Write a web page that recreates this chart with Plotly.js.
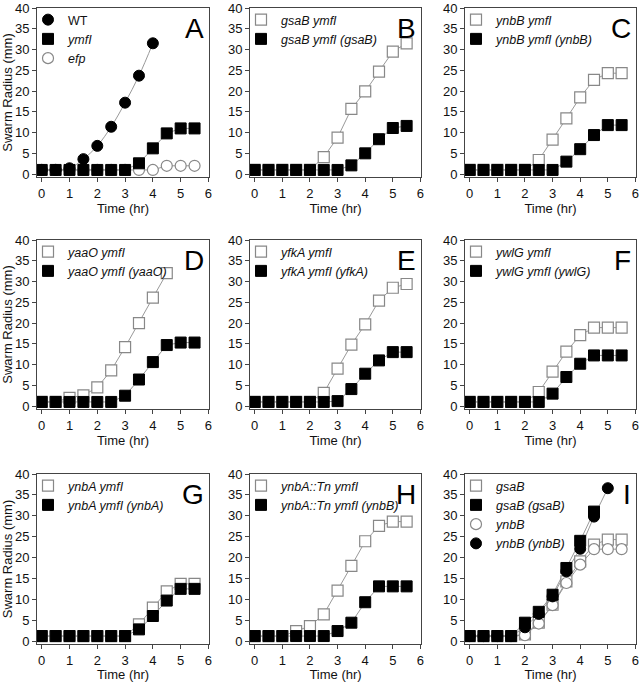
<!DOCTYPE html>
<html>
<head>
<meta charset="utf-8">
<script src="https://cdn.plot.ly/plotly-3.0.1.min.js"></script>
<style>html,body{margin:0;padding:0;background:#fff;}#chart{width:642px;height:682px;}</style>
</head>
<body>
<div id="chart"></div>
<script>
// ---- data ----
const time = [0,0.5,1,1.5,2,2.5,3,3.5,4,4.5,5,5.5];
const panelLetters = ['A','B','C','D','E','F','G','H','I'];
const xTicks = [0,1,2,3,4,5,6];
const yTicks = [0,5,10,15,20,25,30,35,40];
// Panel A
const aWT   = [1,1,1.4,3.6,6.8,11.4,17.2,23.7,31.5];
const aYmfI = [1,1,1,1,1,1,1,2.6,6.2,9.8,11,11];
const aEfp  = [1,1,1,1,1,1,1,1,1,2,2,2];
// Panel B
const bOpen = [1,1,1,1,1,4.1,8.8,15.7,19.9,24.7,29.5,31.5];
const bFill = [1,1,1,1,1,1,1,2.1,5,8.4,11.1,11.6];
// Panel C
const cOpen = [1,1,1,1,1,3.4,8.3,13.4,18.5,22.7,24.3,24.3];
const cFill = [1,1,1,1,1,1,1,3,6,9.4,11.8,11.8];
// Panel D
const dOpen = [1,1,2,2.6,4.5,8.6,14.2,20,26.1,32];
const dFill = [1,1,1,1,1,1,2.5,6.4,10.6,14.7,15.3,15.3];
// Panel E
const eOpen = [1,1,1,1,1,3.2,9,14.8,19.7,25.4,28.5,29.4];
const eFill = [1,1,1,1,1,1,1.2,4.1,7.8,11,13,13];
// Panel F
const fOpen = [1,1,1,1,1,3.4,8.3,13.1,17.1,18.9,18.9,18.9];
const fFill = [1,1,1,1,1,1,3,7,10.2,12.2,12.2,12.2];
// Panel G
const gOpen = [1.2,1.2,1.2,1.2,1.2,1.2,1.2,4,8,11.9,13.7,13.7];
const gFill = [1.2,1.2,1.2,1.2,1.2,1.2,1.2,2.8,6,9.7,12.5,12.5];
// Panel H
const hOpen = [1.2,1.2,1.2,2.4,3.6,6.4,12.1,18,23.9,27.6,28.6,28.6];
const hFill = [1.2,1.2,1.2,1.2,1.2,1.2,2.4,4.4,9.3,13.1,13.1,13.1];
// Panel I
const iGsaB  = [1.2,1.2,1.2,1.2,1.6,4.4,8.7,14.3,19.1,23.1,24.3,24.3];
const iGsaBc = [1.2,1.2,1.2,1.2,4.4,7,11.1,17.5,24,31];
const iYnbB  = [1.2,1.2,1.2,1.2,1.4,4.2,8.6,13.9,18.3,22,22,22];
const iYnbBc = [1.2,1.2,1.2,1.2,3.3,6.5,10.7,16.7,22.1,29.8,36.6];

// series per panel: [name, values, style, spline]
const panels = [
  [['WT', aWT, 'fc', true], ['<i>ymfI</i>', aYmfI, 'fs'], ['<i>efp</i>', aEfp, 'oc']],
  [['<i>gsaB ymfI</i>', bOpen, 'os'], ['<i>gsaB ymfI (gsaB)</i>', bFill, 'fs']],
  [['<i>ynbB ymfI</i>', cOpen, 'os'], ['<i>ynbB ymfI (ynbB)</i>', cFill, 'fs']],
  [['<i>yaaO ymfI</i>', dOpen, 'os'], ['<i>yaaO ymfI (yaaO)</i>', dFill, 'fs']],
  [['<i>yfkA ymfI</i>', eOpen, 'os'], ['<i>yfkA ymfI (yfkA)</i>', eFill, 'fs']],
  [['<i>ywlG ymfI</i>', fOpen, 'os'], ['<i>ywlG ymfI (ywlG)</i>', fFill, 'fs']],
  [['<i>ynbA ymfI</i>', gOpen, 'os'], ['<i>ynbA ymfI (ynbA)</i>', gFill, 'fs']],
  [['<i>ynbA::Tn ymfI</i>', hOpen, 'os'], ['<i>ynbA::Tn ymfI (ynbB)</i>', hFill, 'fs']],
  [['<i>gsaB</i>', iGsaB, 'os'], ['<i>gsaB (gsaB)</i>', iGsaBc, 'fs'], ['<i>ynbB</i>', iYnbB, 'oc'], ['<i>ynbB (ynbB)</i>', iYnbBc, 'fc']]
];
// draw order inside panel (indices into series list)
const drawOrder = [[2,0,1],[0,1],[0,1],[0,1],[0,1],[0,1],[0,1],[0,1],[0,2,3,1]];

// ---- layout geometry ----
const W = 642, H = 682;
const colPx = [[37,209],[250,421],[465,636]];
const rowPx = [[8,177],[240,409],[474,644]];
const FONT = 'Liberation Sans, Arial, sans-serif';

const lineTraces = [], markerTraces = [];
const layout = {
  width: W, height: H, margin: {l:0, r:0, t:0, b:0},
  paper_bgcolor: '#fff', plot_bgcolor: '#fff',
  font: {family: FONT, size: 13, color: '#111'},
  showlegend: true, annotations: []
};

panels.forEach((series, p) => {
  const r = Math.floor(p/3), c = p % 3;
  const n = p + 1;
  const xa = n === 1 ? 'x' : 'x' + n;
  const ya = n === 1 ? 'y' : 'y' + n;
  const lg = n === 1 ? 'legend' : 'legend' + n;
  layout[n === 1 ? 'xaxis' : 'xaxis' + n] = {
    domain: [colPx[c][0]/W, colPx[c][1]/W], anchor: ya,
    range: [-0.17, 6.02], tickvals: xTicks, ticks: 'outside', ticklen: 4, tickwidth: 1,
    tickcolor: '#444', showline: true, linecolor: '#444', linewidth: 1, mirror: true,
    showgrid: false, zeroline: false, tickfont: {size: 13, color: '#111'},
    ticklabeloverflow: 'allow',
    title: {text: 'Time (hr)', font: {size: 13, color: '#111'}, standoff: 3}
  };
  layout[n === 1 ? 'yaxis' : 'yaxis' + n] = {
    domain: [(H - rowPx[r][1])/H, (H - rowPx[r][0])/H], anchor: xa,
    range: [-0.7, 40], tickvals: yTicks, ticks: 'outside', ticklen: 4, tickwidth: 1,
    tickcolor: '#444', showline: true, linecolor: '#444', linewidth: 1, mirror: true,
    showgrid: false, zeroline: false, tickfont: {size: 13, color: '#111'},
    ticklabeloverflow: 'allow',
    title: c === 0 ? {text: 'Swarm Radius (mm)', font: {size: 13, color: '#111'}, standoff: 4} : {text: ''}
  };
  layout[lg] = {
    x: (colPx[c][0] - 9)/W, y: (H - rowPx[r][0] + 3)/H, xanchor: 'left', yanchor: 'top',
    bgcolor: 'rgba(0,0,0,0)', borderwidth: 0, font: {size: 12.5, color: '#111', family: FONT},
    tracegroupgap: 0, itemsizing: 'trace'
  };
  layout.annotations.push({
    text: panelLetters[p], xref: xa + ' domain', yref: ya + ' domain',
    x: 0.98, y: 0.985, xanchor: 'right', yanchor: 'top', showarrow: false,
    font: {size: 28, color: '#000', family: FONT}
  });
  drawOrder[p].forEach(i => {
    const [name, vals, style, spline] = series[i];
    const xs = time.slice(0, vals.length);
    lineTraces.push({
      type: 'scatter', mode: 'lines', x: xs, y: vals, xaxis: xa, yaxis: ya,
      line: {color: '#999', width: 1, shape: spline ? 'spline' : 'linear'},
      showlegend: false, hoverinfo: 'skip'
    });
    const filled = style[0] === 'f';
    markerTraces.push({
      type: 'scatter', mode: 'markers', x: xs, y: vals, xaxis: xa, yaxis: ya,
      name: name, legend: lg, legendrank: i + 1,
      marker: {
        symbol: style[1] === 's' ? 'square' : 'circle', size: 11,
        color: filled ? '#000' : '#fff',
        line: {color: filled ? '#000' : '#888', width: filled ? 1 : 1.2}
      }
    });
  });
});

Plotly.newPlot('chart', lineTraces.concat(markerTraces), layout, {displayModeBar: false, staticPlot: true});
</script>
</body>
</html>
